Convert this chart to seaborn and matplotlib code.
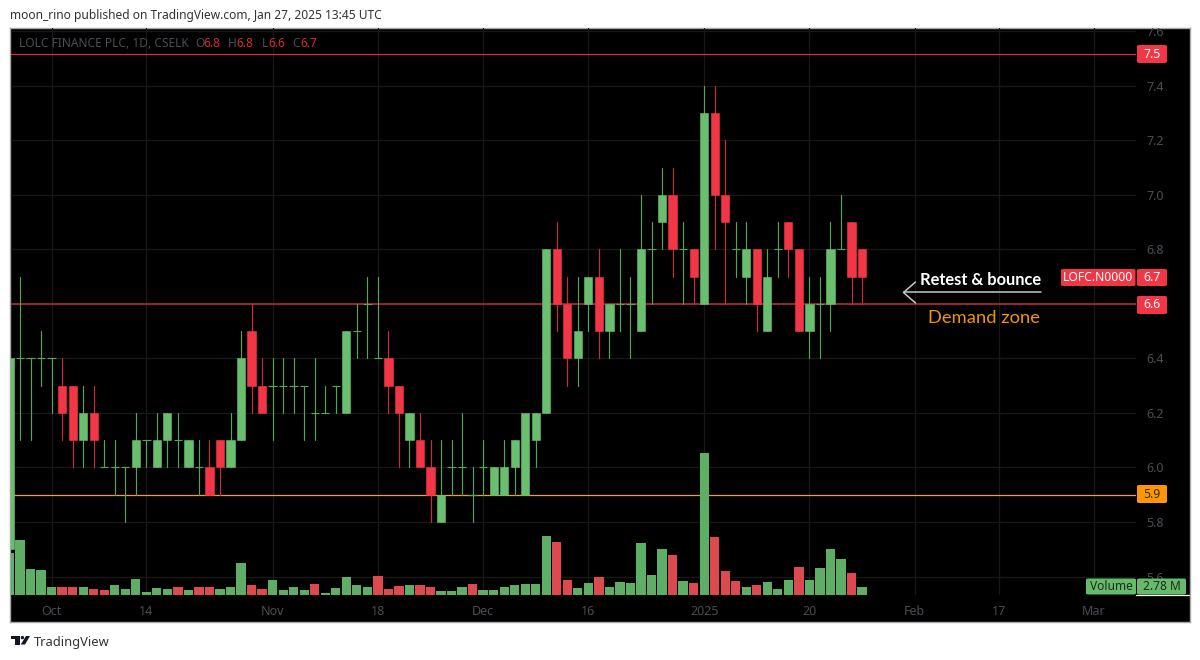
import numpy as np
import pandas as pd
import matplotlib
matplotlib.use("Agg")
import matplotlib.pyplot as plt
from matplotlib.lines import Line2D
from matplotlib.patches import Polygon, Circle, FancyBboxPatch
from matplotlib.transforms import IdentityTransform
import seaborn as sns

# ---- data (daily candles) ----
opens = [5.7,6.4,6.4,6.4,6.4,6.3,6.3,6.1,6.2,6.0,6.0,6.0,6.0,6.1,6.0,6.1,6.1,6.0,6.0,6.0,
         6.1,6.0,6.1,6.5,6.3,6.3,6.3,6.3,6.3,6.2,6.2,6.3,6.2,6.5,6.6,6.4,6.4,6.3,6.1,6.1,
         6.0,5.8,6.0,6.0,5.9,6.0,5.9,5.9,6.0,5.9,6.1,6.2,6.8,6.6,6.4,6.6,6.7,6.5,6.6,6.6,
         6.5,6.8,6.9,7.0,6.8,6.8,6.6,7.3,7.0,6.8,6.7,6.8,6.5,6.8,6.9,6.8,6.5,6.6,6.6,6.8,
         6.9,6.8]
closes = [6.4,6.4,6.4,6.4,6.4,6.2,6.1,6.2,6.1,6.0,6.0,6.0,6.1,6.1,6.1,6.2,6.1,6.1,6.0,5.9,
          6.0,6.1,6.4,6.3,6.2,6.3,6.3,6.3,6.3,6.2,6.2,6.3,6.5,6.5,6.6,6.4,6.3,6.2,6.2,6.0,
          5.9,5.9,6.0,6.0,5.9,6.0,6.0,6.0,6.1,6.2,6.2,6.8,6.6,6.4,6.5,6.7,6.5,6.6,6.6,6.6,
          6.8,6.8,7.0,6.8,6.8,6.7,7.3,7.0,6.9,6.8,6.8,6.6,6.7,6.8,6.8,6.5,6.6,6.6,6.8,6.8,
          6.7,6.7]
highs = [6.4,6.7,6.4,6.5,6.4,6.4,6.3,6.3,6.3,6.1,6.1,6.0,6.2,6.1,6.2,6.2,6.2,6.1,6.1,6.1,
         6.1,6.2,6.5,6.6,6.4,6.4,6.4,6.4,6.3,6.4,6.3,6.3,6.5,6.6,6.7,6.7,6.5,6.3,6.2,6.2,
         6.1,6.1,6.1,6.2,6.0,6.1,6.0,6.1,6.1,6.2,6.2,6.8,6.9,6.7,6.7,6.7,6.8,6.6,6.8,6.7,
         7.0,6.9,7.1,7.1,6.9,6.8,7.4,7.4,7.2,6.9,6.9,6.8,6.8,6.9,6.9,6.8,6.7,6.7,6.9,7.0,
         6.9,6.8]
lows = [5.7,6.1,6.1,6.3,6.2,6.1,6.0,6.0,6.0,6.0,5.9,5.8,5.9,6.0,6.0,6.0,6.0,6.0,5.9,5.9,
        5.9,6.0,6.1,6.2,6.2,6.1,6.2,6.2,6.1,6.1,6.2,6.2,6.2,6.4,6.4,6.4,6.2,6.0,6.0,6.0,
        5.8,5.8,5.9,5.9,5.8,5.9,5.9,5.9,5.9,5.9,6.0,6.2,6.5,6.3,6.3,6.5,6.4,6.4,6.5,6.4,
        6.5,6.6,6.8,6.7,6.6,6.6,6.6,6.8,6.6,6.7,6.6,6.5,6.5,6.7,6.7,6.5,6.4,6.4,6.5,6.8,
        6.6,6.6]
volumes = [15.2,20.0,9.3,9.1,2.8,2.8,2.8,2.8,2.3,1.8,3.5,2.2,5.8,1.1,2.4,2.1,2.8,1.8,2.8,2.8,
           2.2,2.8,11.6,3.8,2.2,5.4,1.8,2.8,1.8,4.1,0.7,2.4,6.5,3.8,2.8,6.9,2.2,3.1,3.5,3.5,
           2.8,1.5,1.5,2.8,4.1,1.8,1.8,3.0,3.5,3.9,4.1,21.3,19.2,5.4,2.4,4.5,6.5,3.0,4.8,4.5,
           18.9,7.3,16.5,14.4,5.1,4.5,51.4,20.9,8.6,5.1,3.0,3.5,4.8,2.1,5.4,10.3,5.4,9.9,16.5,13.1,
           7.9,2.78]
volume_down = [5,6,8,9,16,18,19,23,24,29,35,36,37,39,40,44,52,53,56,63,65,67,68,69,71,75,80]

price_ticks = [5.6,5.8,6.0,6.2,6.4,6.6,6.8,7.0,7.2,7.4,7.6]
price_labels = ["5.6","5.8","6.0","6.2","6.4","","6.8","7.0","7.2","7.4","7.6"]
date_ticks = [4,13,25,35,45,55,66,76,86,94,103]
date_labels = ["Oct","14","Nov","18","Dec","16","2025","20","Feb","17","Mar"]
level_resistance, level_demand, level_support = 7.516, 6.6, 5.9

GREEN, RED = "#6abf6e", "#f23645"
GREEN_W, RED_W = "#55a45c", "#c92c3e"
VOL_G, VOL_R = "#5fae65", "#dc4a4e"
AXC = "#4c4c55"
FONT = "Noto Sans"

sns.set_theme(style="dark")
plt.rcParams["font.family"] = [FONT, "DejaVu Sans"]

W, H = 1200, 660
fig = plt.figure(figsize=(12, 6.6), dpi=100, facecolor="white")
fx = lambda x: x / W
fy = lambda y: 1 - y / H

# black frame including the scale strips
bg = fig.add_axes([fx(10), fy(622), fx(1189.5 - 10), (622 - 27.5) / H], zorder=0)
bg.set_facecolor("black")
bg.set_xticks([]); bg.set_yticks([])
for s in bg.spines.values():
    s.set_color("#a8a8a8"); s.set_linewidth(1)

# chart pane: grid and levels / volume / candles, back to front
L, R, T, B = 10.5, 1136, 28, 595
PX_UNIT = 272.5
rect = [fx(L), fy(B), fx(R - L), (B - T) / H]
xlim = ((L - 9.5) / 10.525, (R - 9.5) / 10.525)
ylim = (6.6 - (B - 304) / PX_UNIT, 6.6 + (304 - T) / PX_UNIT)
gax = fig.add_axes(rect, zorder=1)
vax = fig.add_axes(rect, zorder=2)
ax = fig.add_axes(rect, zorder=3)

gax.set_facecolor("none")
gax.set_xlim(xlim); gax.set_ylim(ylim)
gax.set_xticks(date_ticks, [""] * len(date_ticks))
gax.set_yticks(price_ticks, [""] * len(price_ticks))
gax.tick_params(length=0)
gax.grid(True, color="#181818", linewidth=0.9)
for s in gax.spines.values():
    s.set_visible(False)
gax.axhline(level_resistance, color="#e0293b", lw=0.9)
gax.axhline(level_demand, color="#a92535", lw=1.3)
gax.axhline(level_support, color="#f0a226", lw=0.9)

idx = np.arange(len(opens))
df = pd.DataFrame({"idx": idx, "open": opens, "close": closes, "high": highs,
                   "low": lows, "volume": volumes})
df["dir"] = np.where(df.close >= df.open, "up", "down")

# volume
df["vdir"] = ["down" if i in volume_down else "up" for i in idx]
sns.barplot(data=df, x="idx", y="volume", hue="vdir", native_scale=True, dodge=False,
            palette={"up": VOL_G, "down": VOL_R}, saturation=1, width=0.88,
            errorbar=None, legend=False, linewidth=0, ax=vax)
vax.set_ylim(0, (B - T) * 0.3625)
vax.set_xlim(xlim)
vax.axis("off")

# wicks
ax.patch.set_alpha(0)
wick = pd.concat([df[["idx", "high", "dir"]].rename(columns={"high": "price"}),
                  df[["idx", "low", "dir"]].rename(columns={"low": "price"})])
sns.lineplot(data=wick, x="idx", y="price", units="idx", hue="dir", estimator=None,
             palette={"up": GREEN_W, "down": RED_W}, linewidth=0.85, legend=False,
             sort=False, ax=ax, zorder=2)

# bodies
for name, colour in (("up", GREEN), ("down", RED)):
    b = df[(df.dir == name) & (df.open != df.close)].copy()
    b["height"] = b.close - b.open
    sns.barplot(data=b, x="idx", y="height", bottom=b.open.values, native_scale=True,
                color=colour, saturation=1, width=0.78, errorbar=None, linewidth=0.4,
                edgecolor=colour, ax=ax, zorder=3)
doji = df[df.open == df.close]
ax.hlines(doji.open, doji.idx - 0.4, doji.idx + 0.4, color=GREEN_W, lw=0.85, zorder=3)

ax.set_xlim(xlim); ax.set_ylim(ylim)
ax.set_xlabel(""); ax.set_ylabel("")
ax.grid(False)
for s in ax.spines.values():
    s.set_visible(False)

ax.set_xticks(date_ticks, date_labels)
ax.set_yticks(price_ticks, price_labels)
ax.yaxis.tick_right()
ax.tick_params(axis="both", length=0, colors=AXC, labelsize=9)
ax.tick_params(axis="x", pad=7.5)
ax.tick_params(axis="y", pad=7.5)
for lab in ax.get_yticklabels():
    lab.set_clip_box(bg.bbox)
    lab.set_clip_on(True)

# header / footer
fig.text(fx(10), fy(15.5), "moon_rino published on TradingView.com, Jan 27, 2025 13:45 UTC",
         fontsize=8.6, color="#333333", va="center")
fig.text(fx(34), fy(642.5), "TradingView", fontsize=9.3, color="#333333", va="center")

# logo
def poly(pts):
    fig.add_artist(Polygon([(fx(a), fy(b)) for a, b in pts], closed=True, facecolor="#131722",
                           edgecolor="none", transform=fig.transFigure))
poly([(10.7, 636), (19.5, 636), (19.5, 644.5), (15, 644.5), (15, 639), (10.7, 639)])
poly([(26, 636), (30, 636), (25, 644.5), (20.7, 644.5)])
dot = Circle((22.4, H - 637.6), 1.7, facecolor="#131722", edgecolor="none")
fig.add_artist(dot)
dot.set_transform(IdentityTransform())

# legend line
fig_items = [(19, "LOLC FINANCE PLC, 1D, CSELK", AXC), (195, "O", AXC), (203, "6.8", "#d8293a"),
             (228, "H", AXC), (236.5, "6.8", "#d8293a"), (261.5, "L", AXC), (268, "6.6", "#d8293a"),
             (292.5, "C", AXC), (300.5, "6.7", "#d8293a")]
for x, s, c in fig_items:
    fig.text(fx(x), fy(43.5), s, fontsize=8.6, color=c, va="center", zorder=5)

# annotations
fig.add_artist(Line2D([fx(1041), fx(904)], [fy(292.5), fy(292.5)], color="#c8c8c8", lw=1.1, zorder=5))
fig.add_artist(Line2D([fx(915.5), fx(903.5), fx(915.5)], [fy(282), fy(292.5), fy(303)],
                      color="#c8c8c8", lw=1.1, zorder=5))
fig.text(fx(919.5), fy(280), "Retest & bounce", fontsize=11.9, color="white", va="center",
         family="Lato", weight="bold", zorder=5)
fig.text(fx(927.5), fy(318), "Demand zone", fontsize=13.2, color="#f09400", va="center",
         family="Lato", zorder=5)

# value boxes
def box(x0, x1, y0, y1, colour, text, tc="white", weight="bold", fs=8.8):
    fig.add_artist(FancyBboxPatch(
        (fx(x0), fy(y1)), fx(x1 - x0), (y1 - y0) / H,
        boxstyle="round,pad=0,rounding_size=0.002", facecolor=colour, edgecolor="none",
        transform=fig.transFigure, zorder=6))
    fig.text(fx((x0 + x1) / 2), fy((y0 + y1) / 2), text, color=tc, fontsize=fs, weight=weight,
             ha="center", va="center", zorder=7)

box(1137, 1167, 45, 63, "#f23645", "7.5")
box(1061, 1135.5, 269, 286, "#f23645", "LOFC.N0000", fs=8.8, weight="semibold")
box(1137, 1167, 269, 286, "#f23645", "6.7")
box(1137, 1167, 296, 314, "#f23645", "6.6")
box(1137, 1167, 485, 503, "#ff9800", "5.9", tc="#2a2a2a", weight="normal")
box(1086, 1136, 578.5, 594.5, "#66bb6a", "Volume", tc="#1e2a20", weight="normal", fs=8.6)
box(1137, 1186, 578.5, 594.5, "#66bb6a", "2.78 M", tc="#1e2a20", weight="normal", fs=8.6)
fig.add_artist(Line2D([fx(1136), fx(1189)], [fy(594.8), fy(594.8)], color="white", lw=0.9, zorder=8))

fig.savefig("out.png", dpi=100, facecolor="white")
